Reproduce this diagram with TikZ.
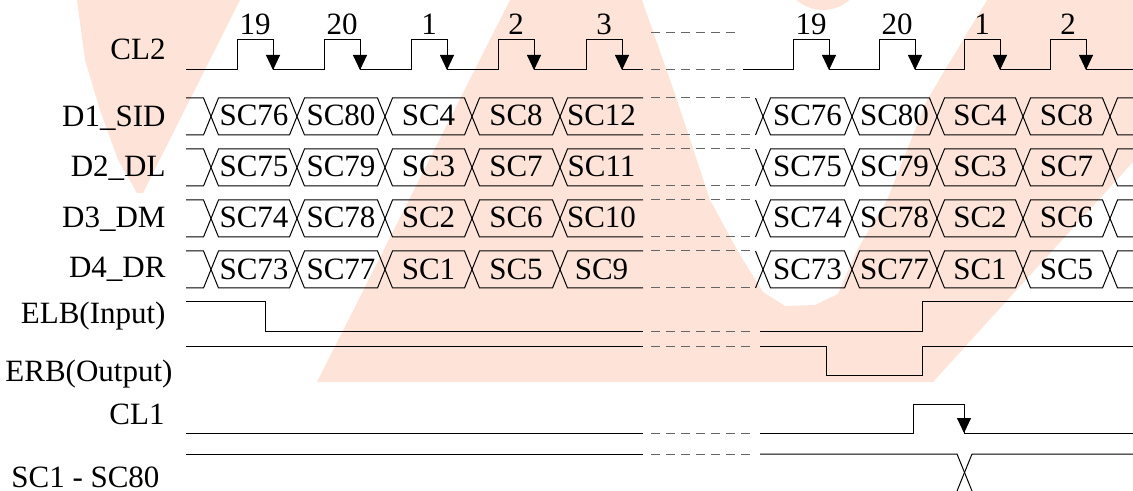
\documentclass[tikz,border=0pt]{standalone}
\usepackage{fontspec}
\setmainfont{Liberation Serif}
\usetikzlibrary{arrows.meta}
\definecolor{wmark}{RGB}{254,228,216}
\tikzset{
  breakline/.style = {dash pattern = on 4.5pt off 3pt, black!60},
  fall/.style = {-{Triangle[width = 7pt, length = 7.5pt]}},
  lbl/.style = {anchor = base east},
  num/.style = {anchor = base},
  cell/.style = {anchor = base}
}
\begin{document}
\begin{tikzpicture}[x = 0.5pt, y = -0.5pt, line width = 0.5pt,
    every node/.append style = {font = \fontsize{15.5}{18}\selectfont, inner sep = 0pt}]
    \useasboundingbox (0,0) rectangle (1133,491);
    \clip (0,0) rectangle (1133,491);
    % watermark
    \fill[wmark] (77,0) -- (85,60) -- (100,110) -- (118,160) -- (137,193) -- (143,193) -- (240,0) -- cycle;
    \fill[wmark] (510,0) -- (642,0) -- (677,100) -- (710,200) -- (740,255) -- (763,292) -- (785,306) -- (815,305)
        -- (838,294) -- (857,250) -- (887,200) -- (907,150) -- (927,100) -- (987,0) -- (1133,0) -- (1133,162)
        -- (933,382) -- (317,382) -- cycle;
    \fill[wmark] (823,-30) circle[radius = 40];
    % CL2
    \draw (186,70) \foreach \r in {237,324,411,498,586} { -- (\r,70) -- (\r,40) -- (\r+36,40) -- (\r+36,70) } -- (643,70);
    \draw (743,70) \foreach \r in {793,879,964,1050} { -- (\r,70) -- (\r,40) -- (\r+36,40) -- (\r+36,70) } -- (1133,70);
    \foreach \r/\n in {237/19,324/20,411/1,498/2,586/3,793/19,879/20,964/1,1050/2} {
        \draw[fall] (\r+36,40) -- (\r+36,70);
        \node[num] (p\r) at (\r+18,35) {\n};
    }
    % data rows
    \foreach \i in {1,...,4} {
        \pgfmathsetmacro\t{47+51*\i}
        \pgfmathsetmacro\m{\t+18.5}
        \pgfmathsetmacro\b{\t+37}
        \pgfmathtruncatemacro\n{13-\i}
        \draw (186,\t) -- (203.5,\t) -- (211,\m) -- (203.5,\b) -- (186,\b);
        \draw (643,\t) -- (567.5,\t) -- (560,\m) -- (567.5,\b) -- (643,\b);
        \node[cell] (c\i-560) at (601.5,\t+28) {SC\n};
        \draw (755.5,\t) -- (763,\m) -- (755.5,\b);
        \draw (1133,\t) -- (1117.5,\t) -- (1110,\m) -- (1117.5,\b) -- (1133,\b);
        \draw[breakline] (651,\t) -- (755,\t);
        \draw[breakline] (651,\b) -- (755,\b);
        \foreach \a/\e/\k in {211/297/76,297/385/80,385/472/4,472/560/8,763/852/76,852/937/80,937/1023/4,1023/1110/8} {
            \pgfmathtruncatemacro\n{\k+1-\i}
            \draw (\a,\m) -- (\a+7.5,\t) -- (\e-7.5,\t) -- (\e,\m) -- (\e-7.5,\b) -- (\a+7.5,\b) -- cycle;
            \node[cell] (c\i-\a) at ({(\a+\e)/2},\t+28) {SC\n};
        }
    }
    % ELB, ERB, CL1, SC1 - SC80
    \draw (186,302) -- (265,302) -- (265,331) -- (643,331);
    \draw (760,331) -- (922,331) -- (922,302) -- (1133,302);
    \draw (186,346) -- (643,346);
    \draw (760,346) -- (826,346) -- (826,375) -- (922,375) -- (922,346) -- (1133,346);
    \draw (186,433) -- (643,433);
    \draw (760,433) -- (913,433) -- (913,404) -- (964,404) -- (964,433) -- (1133,433);
    \draw[fall] (964,404) -- (964,433);
    \draw (186,454) -- (643,454);
    \draw (760,454) -- (957,454) -- (972,491);
    \draw (957,491) -- (972,454) -- (1133,454);
    \begin{scope}[breakline]
        \draw (651,33) -- (737,33);
        \draw (651,70) -- (737,70);
        \draw (651,331) -- (753,331);
        \draw (651,346) -- (753,346);
        \draw (651,433) -- (753,433);
        \draw (651,454) -- (753,454);
    \end{scope}
    % labels
    \node[lbl] (cl2) at (166,60) {CL2};
    \node[lbl] (d1) at (166,127) {D1\_SID};
    \node[lbl] (d2) at (166,177) {D2\_DL};
    \node[lbl] (d3) at (166,228) {D3\_DM};
    \node[lbl] (d4) at (166,278) {D4\_DR};
    \node[lbl] (elb) at (166,323) {ELB(Input)};
    \node[lbl] (erb) at (173,381) {ERB(Output)};
    \node[lbl] (cl1) at (165,424) {CL1};
    \node[lbl] (sc) at (160,487) {SC1 - SC80};
\end{tikzpicture}
\end{document}
